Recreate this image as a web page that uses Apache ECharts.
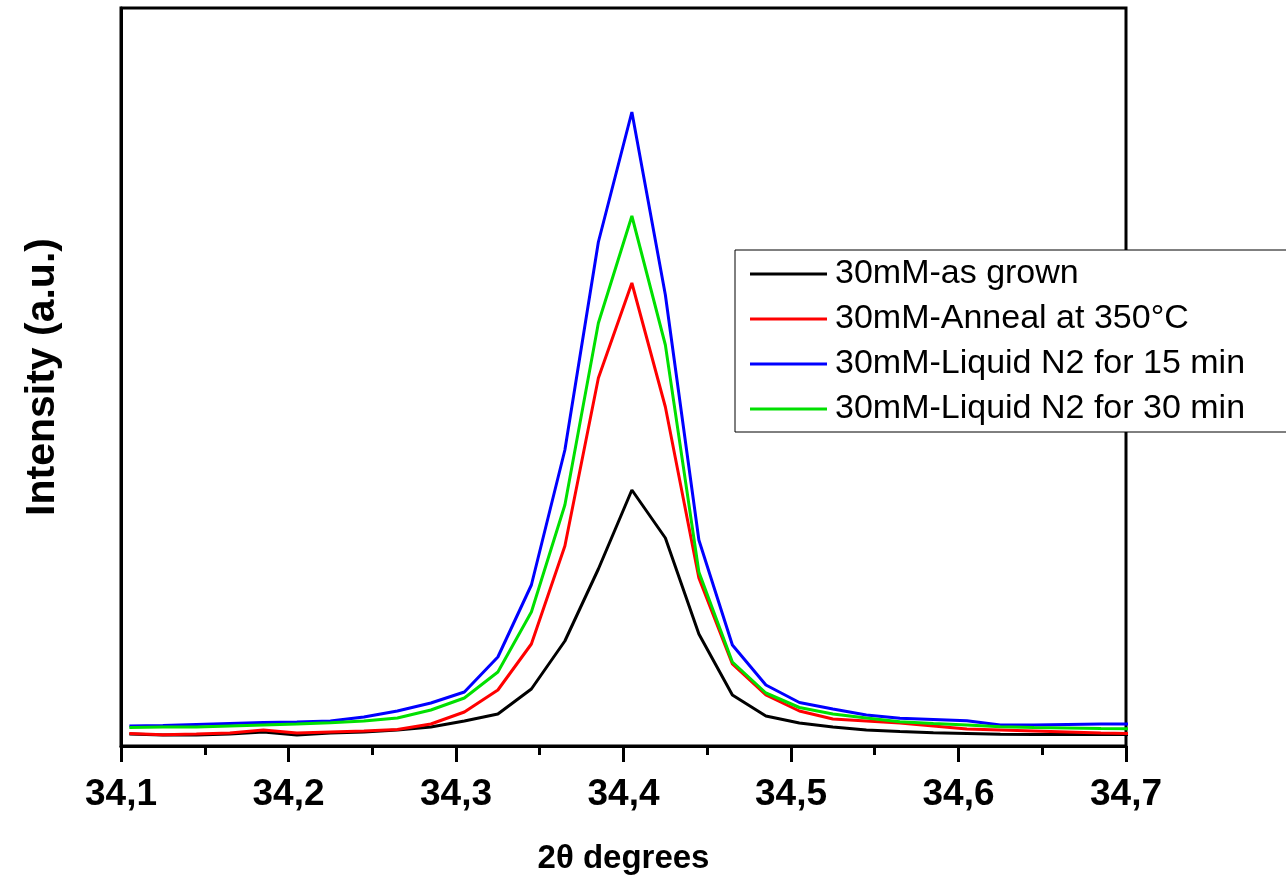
<!DOCTYPE html>
<html>
<head>
<meta charset="utf-8">
<script src="https://cdn.jsdelivr.net/npm/echarts@6/dist/echarts.min.js"></script>
<style>
html,body{margin:0;padding:0;background:#fff;}
#chart{width:1286px;height:884px;}
</style>
</head>
<body>
<div id="chart"></div>
<script>
// 2θ positions (degrees)
const twoTheta = [34.105,34.125,34.145,34.165,34.185,34.205,34.225,34.245,34.265,34.285,34.305,34.325,34.345,34.365,34.385,34.405,34.425,34.445,34.465,34.485,34.505,34.525,34.545,34.565,34.585,34.605,34.625,34.645,34.665,34.685,34.705];
// intensities (a.u.)
const asGrown   = [12,11,11,12,14,11,13,14,16,19,25,32,57,105,177,256,208,112,51,30,23,19,16,14.5,13.3,12.5,11.7,11.5,11.5,11.5,11.5];
const anneal350 = [12.5,11.3,12,13,16,13,14,15,16.5,22,34,56,102,200,368,463,339,168,82,51,35,27,25,23,20,17,16,15,14,13,12.5];
const liqN2_15  = [20,20.5,21.5,22.5,23.5,24,25,29,35,43,54,89,161,296,504,634,451,206,101,61,43.5,37,31,27.7,26.5,25.3,21,21,21.5,22,22];
const liqN2_30  = [18.5,19,19,20,21,22,23.3,25,28,36,48,74,134,241,423,530,401,174,84,53,38.5,32,28,24.3,22.5,21,19.3,18.5,18,17.5,17.3];
const seriesNames = ['30mM-as grown','30mM-Anneal at 350°C','30mM-Liquid N2 for 15 min','30mM-Liquid N2 for 30 min'];
const seriesColors = ['#000000','#ff0000','#0000ff','#00e000'];
const xMin = 34.1, xMax = 34.7, xStep = 0.1;

const allData = [asGrown, anneal350, liqN2_15, liqN2_30];
const chart = echarts.init(document.getElementById('chart'), null, {renderer:'canvas'});
const font = '"Liberation Sans", Arial, sans-serif';

chart.setOption({
  animation:false,
  backgroundColor:'#fff',
  grid:{left:121,right:160,top:8,bottom:138,show:true,borderColor:'#000',borderWidth:3,backgroundColor:'transparent'},
  xAxis:{
    type:'value', min:xMin, max:xMax, interval:xStep,
    name:'2θ degrees', nameLocation:'middle', nameGap:96,
    nameTextStyle:{fontFamily:font,fontWeight:'bold',fontSize:33,color:'#000'},
    axisLine:{show:true,onZero:false,lineStyle:{color:'#000',width:3}},
    axisTick:{show:true,length:16,lineStyle:{color:'#000',width:3}},
    minorTick:{show:true,splitNumber:2,length:9,lineStyle:{color:'#000',width:3}},
    splitLine:{show:false},
    axisLabel:{margin:30,fontFamily:font,fontWeight:'bold',fontSize:37,color:'#000',
      formatter:v=>v.toFixed(1).replace('.',',')}
  },
  yAxis:{
    type:'value', min:0, max:738,
    name:'Intensity (a.u.)', nameLocation:'middle', nameGap:58,
    nameTextStyle:{fontFamily:font,fontWeight:'bold',fontSize:41,color:'#000'},
    axisLine:{show:true,onZero:false,lineStyle:{color:'#000',width:3}},
    axisTick:{show:false}, axisLabel:{show:false}, splitLine:{show:false}
  },
  legend:{
    orient:'vertical', left:735, top:250,
    backgroundColor:'#fff', borderColor:'#000', borderWidth:1,
    padding:[7,90,6,15], itemGap:11,
    itemWidth:77, itemHeight:3, icon:'rect',
    textStyle:{fontFamily:font,fontSize:34,color:'#000',lineHeight:34,padding:[0,0,0,3]},
    data:seriesNames.map((n,i)=>({name:n,itemStyle:{color:seriesColors[i]}}))
  },
  series: allData.map((d,i)=>({
    name:seriesNames[i], type:'line', clip:true, showSymbol:false, symbol:'none',
    color:seriesColors[i],
    lineStyle:{color:seriesColors[i],width:3},
    data: twoTheta.map((x,j)=>[x,d[j]]),
    z: 2
  }))
});
</script>
</body>
</html>
